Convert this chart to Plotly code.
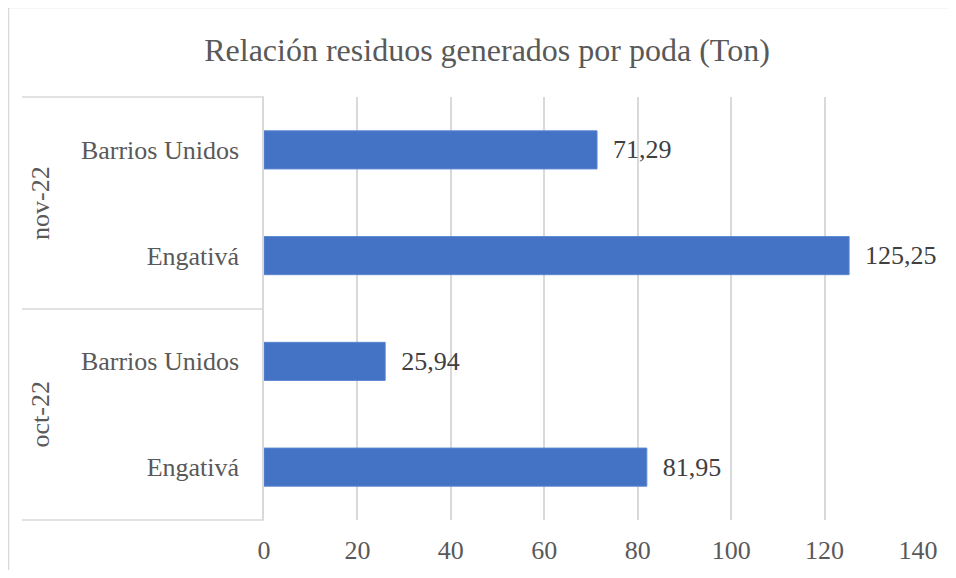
import plotly.graph_objects as go

# Data
months = ["oct-22", "oct-22", "nov-22", "nov-22"]
districts = ["Engativá", "Barrios Unidos", "Engativá", "Barrios Unidos"]
values = [81.95, 25.94, 125.25, 71.29]
x_ticks = [0, 20, 40, 60, 80, 100, 120, 140]
group_labels = ["oct-22", "nov-22"]
title_text = "Relación residuos generados por poda (Ton)"

keys = [f"{m}|{d}" for m, d in zip(months, districts)]

OFF = 8  # default page body margin
PW, PH = 956, 578
W, H = PW - 2 * OFF, PH - 2 * OFF
L, R, T, B = 264 - OFF, PW - 918 - OFF, 97 - OFF, PH - 520 - OFF
pw, ph = W - L - R, H - T - B

def px_x(x):  # page px -> paper
    return (x - OFF - L) / pw

def px_y(y):
    return (H - B - (y - OFF)) / ph

FONT = "Liberation Serif"
GRID = "#D9D9D9"

fig = go.Figure(go.Bar(
    x=values, y=keys, orientation="h",
    marker=dict(color="#4472C4", line=dict(color="#5B86D0", width=1)),
    texttemplate="\u00a0\u00a0%{x:.2f}", textposition="outside",
    textfont=dict(family=FONT, size=26, color="#404040"),
    cliponaxis=False, hoverinfo="skip",
))

fig.update_layout(
    width=W, height=H,
    margin=dict(l=L, r=R, t=T, b=B, autoexpand=False),
    paper_bgcolor="white", plot_bgcolor="white",
    separators=",.",
    bargap=0.64,
    showlegend=False,
    title=dict(text=title_text, x=(487 - OFF) / W, xref="container", xanchor="center",
               y=1 - (50 - OFF) / H, yref="container", yanchor="middle",
               font=dict(family=FONT, size=32, color="#595959")),
    xaxis=dict(range=[0, 140], tickvals=x_ticks, showgrid=True, gridcolor=GRID,
               gridwidth=1.5, zeroline=False, showline=False, ticks="",
               ticklabelstandoff=12, automargin=False,
               tickfont=dict(family=FONT, size=26, color="#595959"), fixedrange=True),
    yaxis=dict(type="category", categoryorder="array", categoryarray=keys,
               tickmode="array", tickvals=keys, ticktext=districts,
               showgrid=False, zeroline=False, showline=True, linecolor=GRID,
               linewidth=1.5, ticks="", ticklabelstandoff=18, automargin=False,
               tickfont=dict(family=FONT, size=26, color="#595959"), fixedrange=True),
)

shapes = []
# outer chart border (cropped at right/bottom)
shapes.append(dict(type="rect", xref="paper", yref="paper",
                   x0=px_x(8.5), x1=px_x(PW + 10), y0=px_y(PH + 10), y1=px_y(7.5),
                   line=dict(color=GRID, width=1.5), fillcolor="rgba(0,0,0,0)", layer="below"))
# group dividers
for yp in [97, 309, 520]:
    shapes.append(dict(type="line", xref="paper", yref="paper",
                       x0=px_x(22), x1=0, y0=px_y(yp), y1=px_y(yp),
                       line=dict(color=GRID, width=1.5)))
fig.update_layout(shapes=shapes)

# group labels (rotated)
centers = {"oct-22": px_y(414.5), "nov-22": px_y(203)}
for g in group_labels:
    fig.add_annotation(text=g, xref="paper", yref="paper", x=px_x(40), y=centers[g],
                       textangle=-90, showarrow=False, xanchor="center", yanchor="middle",
                       font=dict(family=FONT, size=26, color="#595959"))

fig.write_html("out.html")
